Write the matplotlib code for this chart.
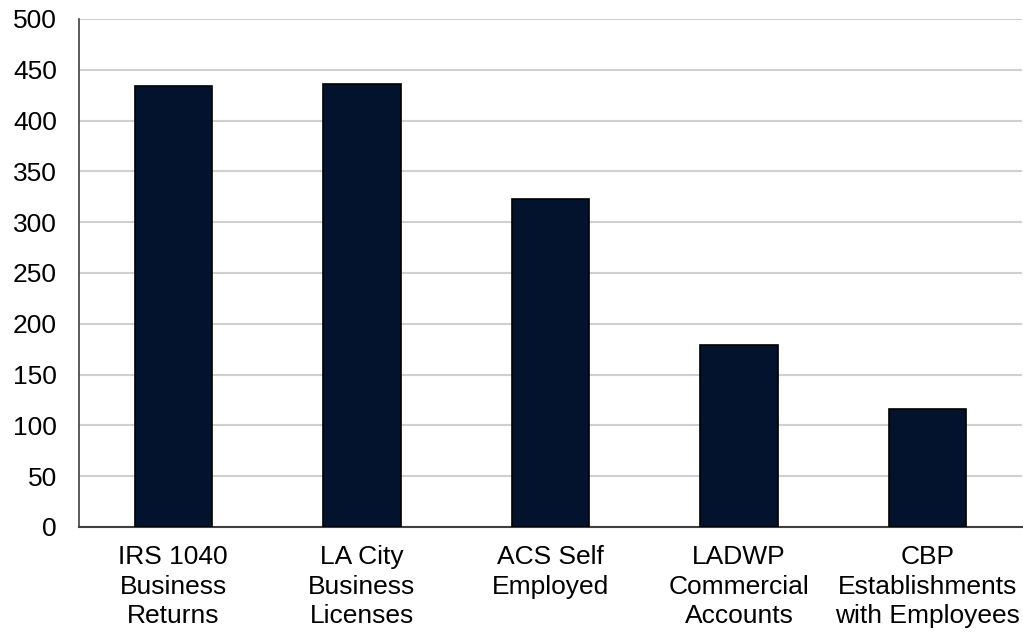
import matplotlib
matplotlib.use('Agg')
import matplotlib.pyplot as plt

categories = ['IRS 1040\nBusiness\nReturns', 'LA City\nBusiness\nLicenses', 'ACS Self\nEmployed',
              'LADWP\nCommercial\nAccounts', 'CBP\nEstablishments\nwith Employees']
values = [434, 436, 323, 179, 116]
yticks = [0, 50, 100, 150, 200, 250, 300, 350, 400, 450, 500]

plt.rcParams['font.family'] = ['Liberation Sans', 'DejaVu Sans']

fig = plt.figure(figsize=(10.23, 6.33), dpi=100)
ax = fig.add_axes([79 / 1023, 1 - 527 / 633, (1022 - 79) / 1023, (527 - 19) / 633])

ax.bar(range(len(values)), values, width=0.41, color='#03132d', edgecolor='black', linewidth=1.2, zorder=3)

ax.set_xlim(-0.5, len(values) - 0.5)
ax.set_ylim(0, 500)
ax.set_yticks(yticks)
ax.set_xticks(range(len(values)))
ax.set_xticklabels(categories, fontsize=19, linespacing=1.3)
ax.tick_params(axis='y', labelsize=19, length=0, pad=16)
ax.tick_params(axis='x', length=0, pad=13)
ax.yaxis.grid(True, color='#d0d0d0', linewidth=1.5, zorder=0)

for s in ['top', 'right']:
    ax.spines[s].set_visible(False)
ax.spines['left'].set_color('#404040')
ax.spines['bottom'].set_color('#404040')
ax.spines['left'].set_linewidth(1.2)
ax.spines['bottom'].set_linewidth(1.5)

fig.savefig('out.png', dpi=100)
